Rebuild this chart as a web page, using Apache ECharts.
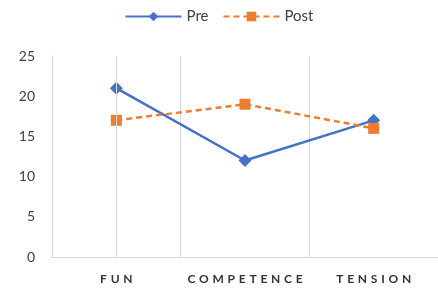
<!DOCTYPE html>
<html>
<head>
<meta charset="utf-8">
<script src="https://cdn.jsdelivr.net/npm/echarts@6/dist/echarts.min.js"></script>
<style>
  html, body { margin: 0; padding: 0; background: #fff; }
  #chart { width: 438px; height: 288px; }
</style>
</head>
<body>
<div id="chart"></div>
<script>
// data
var categories = ['FUN', 'COMPETENCE', 'TENSION'];
var preValues = [21, 12, 17];
var postValues = [17, 19, 16];

var chart = echarts.init(document.getElementById('chart'));
var option = {
    animation: false,
    textStyle: { fontFamily: 'Lato' },
    legend: {
        top: 4,
        left: 'center',
        itemWidth: 56,
        itemHeight: 12,
        itemGap: 14,
        textStyle: { fontSize: 15, color: '#404040', fontFamily: 'Lato' },
        data: ['Pre', 'Post']
    },
    grid: { left: 52, right: -4, top: 56, bottom: 31 },
    xAxis: {
        type: 'category',
        data: categories,
        boundaryGap: true,
        axisLine: { lineStyle: { color: '#d9d9d9', width: 1 } },
        axisTick: { show: false },
        splitLine: { show: true, interval: 0, showMinLine: true, lineStyle: { color: '#d9d9d9', width: 1 } },
        axisLabel: {
            interval: 0,
            margin: 16,
            fontSize: 12,
            fontWeight: 'bold',
            color: '#333333',
            formatter: function (v) { return v.split('').join('\u2009\u2009\u200a'); }
        }
    },
    yAxis: {
        type: 'value',
        min: 0,
        max: 25,
        interval: 5,
        axisLine: { show: true, onZero: false, lineStyle: { color: '#d9d9d9', width: 1 } },
        axisTick: { show: false },
        splitLine: { show: false },
        axisLabel: { fontSize: 14, color: '#404040', margin: 17 }
    },
    series: [
        {
            name: 'Pre',
            type: 'line',
            data: preValues,
            symbol: 'diamond',
            symbolSize: 13,
            itemStyle: { color: '#4472C4' },
            lineStyle: { color: '#4472C4', width: 2.5 },
            // left edge of the first category band
            markLine: {
                silent: true,
                symbol: 'none',
                label: { show: false },
                lineStyle: { color: '#d9d9d9', width: 1, type: 'solid' },
                data: [{ xAxis: -0.5 }]
            }
        },
        {
            name: 'Post',
            type: 'line',
            data: postValues,
            symbol: 'rect',
            symbolSize: 11,
            itemStyle: { color: '#ED7D31' },
            lineStyle: { color: '#ED7D31', width: 2.5, type: [6, 4] }
        }
    ]
};
chart.setOption(option);
</script>
</body>
</html>
